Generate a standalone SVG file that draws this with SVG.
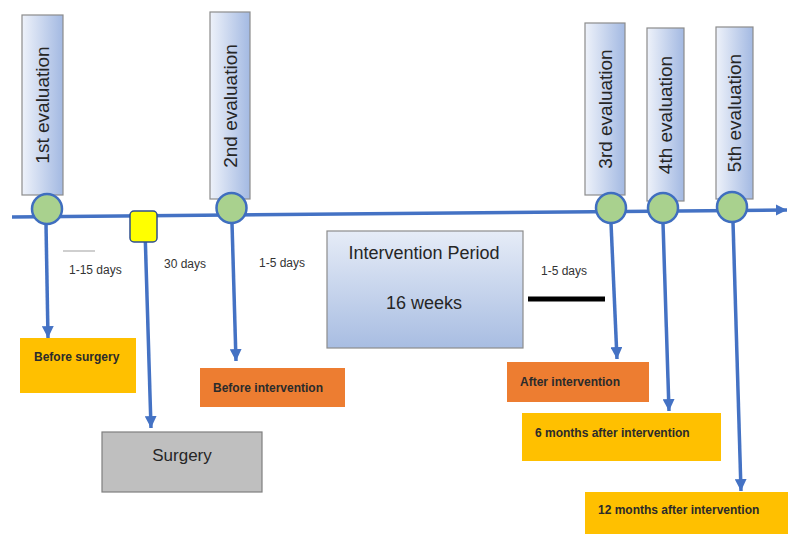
<svg xmlns="http://www.w3.org/2000/svg" width="788" height="534" viewBox="0 0 788 534">
<defs>
<linearGradient id="evalGrad" x1="0" y1="0" x2="1" y2="0">
<stop offset="0" stop-color="#EEF2FA"/>
<stop offset="1" stop-color="#A3B9E2"/>
</linearGradient>
<linearGradient id="ipGrad" x1="0" y1="0" x2="0" y2="1">
<stop offset="0" stop-color="#E6ECF7"/>
<stop offset="1" stop-color="#A8BDE2"/>
</linearGradient>
<marker id="ah" viewBox="0 0 10 10" refX="10" refY="5" markerWidth="3.4" markerHeight="3.4" orient="auto-start-reverse" markerUnits="strokeWidth">
<path d="M0,0 L10,5 L0,10 z" fill="#4472C4"/>
</marker>
<marker id="ahMain" viewBox="0 0 10 10" refX="10" refY="5" markerWidth="3.2" markerHeight="4" orient="auto" markerUnits="strokeWidth">
<path d="M0,0 L10,5 L0,10 z" fill="#4472C4"/>
</marker>
</defs>
<style>
.eval{fill:url(#evalGrad);stroke:#8C8C8C;stroke-width:1.2}
.evt{font-family:"Liberation Sans",Arial,sans-serif;font-size:19px;fill:#262626;text-anchor:middle;dominant-baseline:central}
.dot{fill:#A9D18E;stroke:#3F6EBF;stroke-width:2.5}
.conn{stroke:#4472C4;stroke-width:3.5;fill:none}
.lbl{font-family:"Liberation Sans",Arial,sans-serif;font-size:12px;fill:#333333}
.bx{font-family:"Liberation Sans",Arial,sans-serif;font-size:12px;font-weight:bold;fill:#2B2B2B}
.big{font-family:"Liberation Sans",Arial,sans-serif;font-size:18px;fill:#262626;text-anchor:middle}
.yel{fill:#FFC000}
.ora{fill:#ED7D31}
</style>

<g id="connectors">
<line class="conn" x1="12" y1="217" x2="787" y2="210" stroke-width="4.5" marker-end="url(#ahMain)"/>
<line class="conn" x1="46" y1="224" x2="48" y2="338" marker-end="url(#ah)"/>
<line class="conn" x1="145" y1="230" x2="151" y2="428" marker-start="url(#ah)" marker-end="url(#ah)"/>
<line class="conn" x1="232" y1="223" x2="236" y2="361" marker-end="url(#ah)"/>
<line class="conn" x1="611" y1="223" x2="617" y2="359" marker-end="url(#ah)"/>
<line class="conn" x1="663" y1="223" x2="669" y2="411" marker-end="url(#ah)"/>
<line class="conn" x1="733" y1="222" x2="741" y2="491" marker-end="url(#ah)"/>
<line x1="528" y1="299" x2="605" y2="299" stroke="#000000" stroke-width="5"/>
<line x1="63" y1="251" x2="95" y2="251" stroke="#BFBFBF" stroke-width="1.5"/>
</g>

<g id="eval1">
<rect class="eval" x="22" y="15" width="41" height="180"/>
<text class="evt" transform="translate(42.5,105) rotate(-90)">1st evaluation</text>
<circle class="dot" cx="47" cy="209" r="15"/>
</g>
<g id="eval2">
<rect class="eval" x="210" y="12" width="40" height="187"/>
<text class="evt" transform="translate(230,106) rotate(-90)">2nd evaluation</text>
<circle class="dot" cx="231.5" cy="208" r="15"/>
</g>
<g id="eval3">
<rect class="eval" x="585" y="23" width="40" height="172"/>
<text class="evt" transform="translate(605,109) rotate(-90)">3rd evaluation</text>
<circle class="dot" cx="611" cy="208" r="15"/>
</g>
<g id="eval4">
<rect class="eval" x="647" y="28" width="37" height="173"/>
<text class="evt" transform="translate(665.5,115) rotate(-90)">4th evaluation</text>
<circle class="dot" cx="663" cy="208" r="15"/>
</g>
<g id="eval5">
<rect class="eval" x="716" y="27" width="37" height="172"/>
<text class="evt" transform="translate(734.5,113) rotate(-90)">5th evaluation</text>
<circle class="dot" cx="732" cy="207" r="15"/>
</g>

<g id="surgery-marker">
<rect x="130" y="211" width="27" height="31" rx="4" fill="#FFFF00" stroke="#2F4F8F" stroke-width="1.5"/>
</g>

<g id="labels">
<text class="lbl" x="69" y="274">1-15 days</text>
<text class="lbl" x="164" y="268">30 days</text>
<text class="lbl" x="259" y="267">1-5 days</text>
<text class="lbl" x="541" y="275">1-5 days</text>
</g>

<g id="before-surgery">
<rect class="yel" x="20" y="338" width="116" height="55"/>
<text class="bx" x="34" y="361">Before surgery</text>
</g>
<g id="surgery">
<rect x="102" y="432" width="160" height="60" fill="#BFBFBF" stroke="#7F7F7F" stroke-width="1.2"/>
<text class="big" x="182" y="461" style="font-size:17px">Surgery</text>
</g>
<g id="before-intervention">
<rect class="ora" x="200" y="368" width="145" height="39"/>
<text class="bx" x="213" y="392">Before intervention</text>
</g>
<g id="intervention-period">
<rect x="327" y="231" width="196" height="117" fill="url(#ipGrad)" stroke="#8C8C8C" stroke-width="1.2"/>
<text class="big" x="424" y="259">Intervention Period</text>
<text class="big" x="424" y="309">16 weeks</text>
</g>
<g id="after-intervention">
<rect class="ora" x="507" y="362" width="142" height="40"/>
<text class="bx" x="520" y="386">After intervention</text>
</g>
<g id="six-months">
<rect class="yel" x="522" y="413" width="199" height="48"/>
<text class="bx" x="535" y="437">6 months after intervention</text>
</g>
<g id="twelve-months">
<rect class="yel" x="585" y="492" width="203" height="42"/>
<text class="bx" x="598" y="514">12 months after intervention</text>
</g>
</svg>
